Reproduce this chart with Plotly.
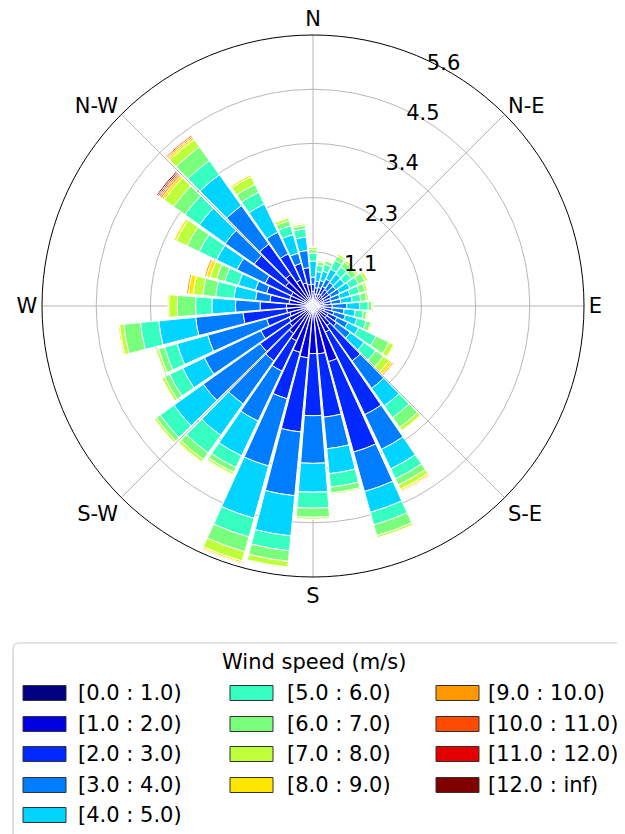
import plotly.graph_objects as go

W, H = 625, 834
OFF = 8  # page body margin in the browser

# ---- data (percent frequency per direction sector and speed bin) ----
directions = list(range(0, 360, 10))

speed_bins = ["[0.0 : 1.0)", "[1.0 : 2.0)", "[2.0 : 3.0)", "[3.0 : 4.0)", "[4.0 : 5.0)",
              "[5.0 : 6.0)", "[6.0 : 7.0)", "[7.0 : 8.0)", "[8.0 : 9.0)", "[9.0 : 10.0)",
              "[10.0 : 11.0)", "[11.0 : 12.0)", "[12.0 : inf)"]

bin_colors = ["#000080", "#0000E0", "#0028FF", "#007CFF", "#00D4FF", "#36FFC1", "#7AFF7D",
              "#BDFF39", "#FFE600", "#FF9800", "#FF4A00", "#E40000", "#800000"]

s00_01 = [0.05] * 36
s01_02 = [0.25, 0.20, 0.20, 0.23, 0.22, 0.20, 0.20, 0.17, 0.17, 0.15, 0.17, 0.20,
          0.30, 0.30, 0.45, 0.55, 1.15, 0.95, 0.94, 1.03, 0.95, 0.75, 0.65, 0.55,
          0.50, 0.45, 0.50, 0.50, 0.45, 0.45, 0.45, 0.65, 0.75, 0.55, 0.45, 0.40]
s02_03 = [0.15, 0.13, 0.15, 0.17, 0.15, 0.15, 0.17, 0.16, 0.16, 0.20, 0.18, 0.20,
          0.20, 0.25, 0.90, 1.90, 1.95, 1.32, 1.29, 1.55, 1.00, 0.70, 0.70, 0.75,
          0.65, 0.50, 0.91, 0.55, 0.40, 0.50, 0.60, 0.80, 0.78, 0.60, 0.42, 0.35]
s03_04 = [0.15, 0.14, 0.15, 0.17, 0.18, 0.18, 0.20, 0.20, 0.20, 0.30, 0.25, 0.25,
          0.25, 0.35, 0.70, 0.80, 0.85, 0.66, 0.99, 1.33, 1.45, 1.15, 1.10, 1.45,
          1.30, 1.27, 0.99, 0.51, 0.30, 0.24, 0.65, 0.74, 0.98, 0.50, 0.22, 0.36]
s04_05 = [0.33, 0.20, 0.20, 0.23, 0.22, 0.22, 0.23, 0.22, 0.24, 0.27, 0.23, 0.25,
          0.25, 0.35, 0.45, 0.45, 0.45, 0.52, 0.60, 0.84, 1.13, 0.80, 0.80, 0.75,
          0.50, 0.66, 0.77, 0.49, 0.45, 0.37, 0.47, 0.66, 0.79, 0.65, 0.40, 0.28]
s05_06 = [0.17, 0.13, 0.15, 0.20, 0.18, 0.18, 0.20, 0.20, 0.18, 0.18, 0.17, 0.20,
          0.40, 0.30, 0.30, 0.23, 0.27, 0.28, 0.33, 0.31, 0.40, 0.27, 0.45, 0.35,
          0.30, 0.27, 0.38, 0.34, 0.38, 0.29, 0.40, 0.37, 0.36, 0.27, 0.19, 0.17]
s06_07 = [0.07, 0.07, 0.07, 0.10, 0.12, 0.12, 0.15, 0.13, 0.12, 0.07, 0.07, 0.10,
          0.30, 0.20, 0.25, 0.14, 0.23, 0.12, 0.19, 0.22, 0.32, 0.11, 0.17, 0.10,
          0.12, 0.13, 0.35, 0.38, 0.27, 0.18, 0.28, 0.29, 0.35, 0.18, 0.11, 0.07]
s07_08 = [0.05, 0.03, 0.03, 0.05, 0.05, 0.05, 0.06, 0.05, 0.04, 0.03, 0.03, 0.03,
          0.11, 0.15, 0.08, 0.10, 0.05, 0.03, 0.04, 0.12, 0.20, 0.05, 0.06, 0.05,
          0.06, 0.05, 0.09, 0.18, 0.20, 0.14, 0.25, 0.24, 0.19, 0.18, 0.06, 0.04]
s08_09 = [0.02, 0.00, 0.00, 0.01, 0.00, 0.00, 0.00, 0.00, 0.00, 0.00, 0.00, 0.00,
          0.02, 0.07, 0.02, 0.04, 0.01, 0.00, 0.00, 0.02, 0.04, 0.02, 0.02, 0.01,
          0.00, 0.00, 0.03, 0.03, 0.10, 0.08, 0.05, 0.06, 0.05, 0.04, 0.02, 0.02]
s09_10 = [0.00, 0.00, 0.00, 0.00, 0.00, 0.00, 0.00, 0.00, 0.00, 0.00, 0.00, 0.00,
          0.00, 0.03, 0.00, 0.02, 0.00, 0.00, 0.00, 0.00, 0.02, 0.00, 0.00, 0.00,
          0.00, 0.00, 0.00, 0.00, 0.04, 0.04, 0.00, 0.04, 0.03, 0.00, 0.00, 0.00]
s10_11 = [0.00, 0.00, 0.00, 0.00, 0.00, 0.00, 0.00, 0.00, 0.00, 0.00, 0.00, 0.00,
          0.00, 0.00, 0.00, 0.01, 0.00, 0.00, 0.00, 0.00, 0.00, 0.00, 0.00, 0.00,
          0.00, 0.00, 0.00, 0.00, 0.00, 0.00, 0.00, 0.03, 0.03, 0.00, 0.00, 0.00]
s11_12 = [0.00, 0.00, 0.00, 0.00, 0.00, 0.00, 0.00, 0.00, 0.00, 0.00, 0.00, 0.00,
          0.00, 0.00, 0.00, 0.00, 0.00, 0.00, 0.00, 0.00, 0.00, 0.00, 0.00, 0.00,
          0.00, 0.00, 0.00, 0.00, 0.00, 0.00, 0.00, 0.03, 0.01, 0.00, 0.00, 0.00]
s12_inf = [0.00, 0.00, 0.00, 0.00, 0.00, 0.00, 0.00, 0.00, 0.00, 0.00, 0.00, 0.00,
           0.00, 0.00, 0.00, 0.00, 0.00, 0.00, 0.00, 0.00, 0.00, 0.00, 0.00, 0.00,
           0.00, 0.00, 0.00, 0.00, 0.00, 0.00, 0.00, 0.03, 0.00, 0.00, 0.00, 0.00]

series = [s00_01, s01_02, s02_03, s03_04, s04_05, s05_06, s06_07, s07_08,
          s08_09, s09_10, s10_11, s11_12, s12_inf]

compass_ticks = [0, 45, 90, 135, 180, 225, 270, 315]
compass_labels = ["N", "N-E", "E", "S-E", "S", "S-W", "W", "N-W"]
radial_ticks = [1.126, 2.252, 3.378, 4.504, 5.63]
radial_labels = ["1.1", "2.3", "3.4", "4.5", "5.6"]
legend_title = "Wind speed (m/s)"

FONT = "DejaVu Sans"

fig = go.Figure()
for name, vals, col in zip(speed_bins, series, bin_colors):
    fig.add_trace(go.Barpolar(
        r=vals, theta=directions, width=[9] * len(directions), name=name,
        marker=dict(color=col, line=dict(color="white", width=1)),
        showlegend=False, hoverinfo="r+theta+name"))


def px(x):
    return (x - OFF) / W


def py(y):
    return 1 - (y - OFF) / H


# polar placement (target pixels in the screenshot)
cx, cy, R = 313, 306, 271
fig.update_layout(
    width=W, height=H, margin=dict(l=0, r=0, t=0, b=0),
    paper_bgcolor="white", font=dict(family=FONT, size=21, color="black"),
    polar=dict(
        domain=dict(x=[px(cx - R), px(cx + R)], y=[py(cy + R), py(cy - R)]),
        bgcolor="white", barmode="stack",
        angularaxis=dict(rotation=90, direction="clockwise", tickmode="array",
                         tickvals=compass_ticks, ticktext=compass_labels,
                         showline=True, linecolor="black", linewidth=1,
                         gridcolor="rgba(170,170,170,0.85)", gridwidth=1,
                         ticks="", layer="above traces",
                         tickfont=dict(family=FONT, size=21, color="black")),
        radialaxis=dict(range=[0, 5.63], tickmode="array", tickvals=radial_ticks,
                        ticktext=radial_labels, angle=67.5, tickangle=67.5, showline=False,
                        gridcolor="rgba(170,170,170,0.85)", gridwidth=1, ticks="",
                        layer="above traces",
                        tickfont=dict(family=FONT, size=21, color="black")),
    ),
)

# ---- legend drawn as shapes + text ----
shapes = []
annotations = []
x0, y0, x1, y1, rr = 13, 643, 680, 870, 6
path = (f"M {px(x0 + rr)} {py(y0)} L {px(x1 - rr)} {py(y0)} "
        f"Q {px(x1)} {py(y0)} {px(x1)} {py(y0 + rr)} L {px(x1)} {py(y1 - rr)} "
        f"Q {px(x1)} {py(y1)} {px(x1 - rr)} {py(y1)} L {px(x0 + rr)} {py(y1)} "
        f"Q {px(x0)} {py(y1)} {px(x0)} {py(y1 - rr)} L {px(x0)} {py(y0 + rr)} "
        f"Q {px(x0)} {py(y0)} {px(x0 + rr)} {py(y0)} Z")
shapes.append(dict(type="path", xref="paper", yref="paper", path=path,
                   line=dict(color="#cccccc", width=1.2), fillcolor="rgba(255,255,255,0.8)"))
annotations.append(dict(xref="paper", yref="paper", x=px(314), y=py(662), text=legend_title,
                        showarrow=False, xanchor="center", yanchor="middle",
                        font=dict(family=FONT, size=21, color="black")))
col_sw = [23, 230, 436]
col_tx = [76, 285, 486]
row_y = [693, 724, 754, 785, 815]
layout_cols = [[0, 1, 2, 3, 4], [5, 6, 7, 8], [9, 10, 11, 12]]
for ci, idxs in enumerate(layout_cols):
    for ri, k in enumerate(idxs):
        yc = row_y[ri]
        shapes.append(dict(type="rect", xref="paper", yref="paper",
                           x0=px(col_sw[ci]), x1=px(col_sw[ci] + 43),
                           y0=py(yc - 7.5), y1=py(yc + 7.5),
                           fillcolor=bin_colors[k], line=dict(color="#333333", width=1)))
        annotations.append(dict(xref="paper", yref="paper", x=px(col_tx[ci]), y=py(yc),
                                text=speed_bins[k], showarrow=False, xanchor="left",
                                yanchor="middle",
                                font=dict(family=FONT, size=21, color="black")))

fig.update_layout(shapes=shapes, annotations=annotations)
fig.write_html("out.html")
